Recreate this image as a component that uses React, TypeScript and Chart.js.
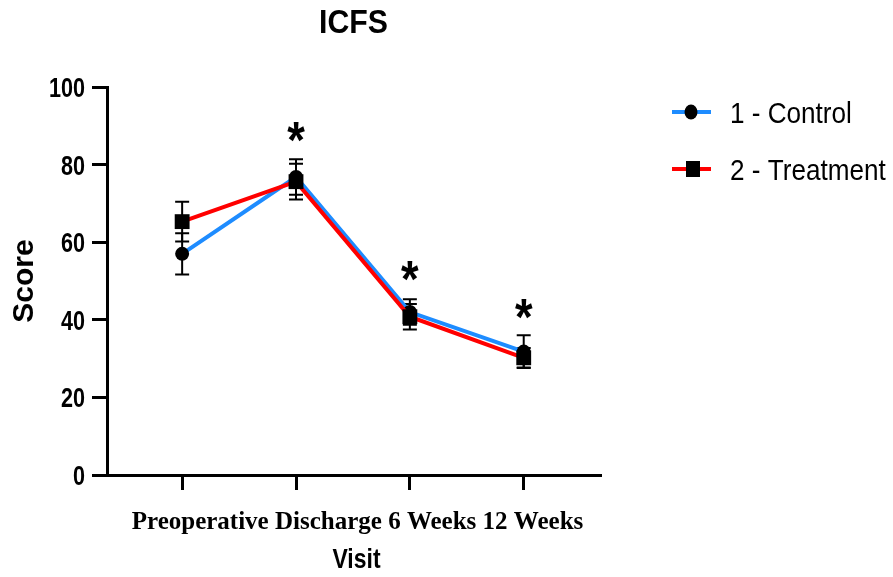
import React, { useEffect, useRef } from "react";
import { Chart, registerables } from "chart.js";

Chart.register(...registerables);

// ---------- data ----------
const visits = ["Preoperative", "Discharge", "6 Weeks", "12 Weeks"];
const controlMean = [57.0, 76.8, 42.0, 31.8];
const controlErr = [5.3, 4.6, 3.3, 4.2];
const treatmentMean = [65.3, 75.6, 40.8, 30.2];
const treatmentErr = [5.1, 4.6, 3.3, 2.5];
const significanceY: (number | null)[] = [null, 88.3, 52.6, 42.8];
const yTicks = [0, 20, 40, 60, 80, 100];
const seriesNames = ["1 - Control", "2 - Treatment"];
const chartTitle = "ICFS";
const xTitle = "Visit";
const yTitle = "Score";

const BLUE = "#1E8CFF";
const RED = "#FF0000";
const SANS = '"Liberation Sans", Arial, sans-serif';
const SERIF = '"Liberation Serif", "Times New Roman", serif';

function drawText(
  ctx: CanvasRenderingContext2D,
  s: string,
  x: number,
  y: number,
  font: string,
  align: CanvasTextAlign,
  sx = 1
) {
  ctx.save();
  ctx.font = font;
  ctx.textAlign = align;
  ctx.textBaseline = "alphabetic";
  ctx.fillStyle = "#000";
  ctx.translate(x, y);
  ctx.scale(sx, 1);
  ctx.fillText(s, 0, 0);
  ctx.restore();
}

const errorsByDataset = [controlErr, treatmentErr];

const errorBarPlugin = {
  id: "errorBars",
  beforeDatasetsDraw(chart: any) {
    const { ctx } = chart;
    const xs = chart.scales.x;
    const ys = chart.scales.y;
    chart.data.datasets.forEach((ds: any, i: number) => {
      const errs = errorsByDataset[i];
      ds.data.forEach((p: any, j: number) => {
        const e = errs[j];
        const px = xs.getPixelForValue(p.x);
        const top = ys.getPixelForValue(p.y + e);
        const bot = ys.getPixelForValue(p.y - e);
        ctx.save();
        ctx.strokeStyle = "#000";
        ctx.lineWidth = 2;
        ctx.beginPath();
        ctx.moveTo(px, top);
        ctx.lineTo(px, bot);
        ctx.moveTo(px - 7, top);
        ctx.lineTo(px + 7, top);
        ctx.moveTo(px - 7, bot);
        ctx.lineTo(px + 7, bot);
        ctx.stroke();
        ctx.restore();
      });
    });
  },
};

const textPlugin = {
  id: "texts",
  afterDraw(chart: any) {
    const { ctx, chartArea } = chart;
    const xs = chart.scales.x;
    const ys = chart.scales.y;
    const cx = (chartArea.left + chartArea.right) / 2;
    const cy = (chartArea.top + chartArea.bottom) / 2;

    // title
    drawText(ctx, chartTitle, cx, 33, `bold 34px ${SANS}`, "center", 0.89);

    // y tick labels
    yTicks.forEach((v) => {
      const py = ys.getPixelForValue(v);
      drawText(ctx, String(v), chartArea.left - 22, py + 10, `bold 27px ${SANS}`, "right", 0.8);
    });

    // y title
    ctx.save();
    ctx.translate(33, cy);
    ctx.rotate(-Math.PI / 2);
    ctx.font = `bold 30px ${SANS}`;
    ctx.textAlign = "center";
    ctx.textBaseline = "alphabetic";
    ctx.fillStyle = "#000";
    ctx.fillText(yTitle, 0, 0);
    ctx.restore();

    // x tick labels (one continuous line, as in the source)
    ctx.save();
    ctx.font = `bold 25px ${SERIF}`;
    const line = visits.join(" ");
    const w = ctx.measureText(line).width;
    ctx.restore();
    drawText(ctx, line, cx + 4 - w / 2, 529, `bold 25px ${SERIF}`, "left");

    // x title
    drawText(ctx, xTitle, cx + 3, 568, `bold 27px ${SANS}`, "center", 0.85);

    // significance asterisks
    significanceY.forEach((v, i) => {
      if (v == null) return;
      const px = xs.getPixelForValue(i);
      const py = ys.getPixelForValue(v);
      ctx.save();
      ctx.font = `bold 52px ${SANS}`;
      const m = ctx.measureText("*");
      const base = py - (m.actualBoundingBoxDescent - m.actualBoundingBoxAscent) / 2;
      ctx.restore();
      drawText(ctx, "*", px, base, `bold 52px ${SANS}`, "center", 0.87);
    });

    // legend
    const rows = [
      { y: 112, color: BLUE, shape: "circle" },
      { y: 169, color: RED, shape: "rect" },
    ];
    rows.forEach((r, i) => {
      ctx.save();
      ctx.strokeStyle = r.color;
      ctx.lineWidth = 4;
      ctx.beginPath();
      ctx.moveTo(672, r.y);
      ctx.lineTo(711, r.y);
      ctx.stroke();
      ctx.fillStyle = "#000";
      if (r.shape === "circle") {
        ctx.beginPath();
        ctx.ellipse(691, r.y, 6.5, 7.5, 0, 0, Math.PI * 2);
        ctx.fill();
      } else {
        ctx.fillRect(686, r.y - 8, 14, 16);
      }
      ctx.restore();
      drawText(ctx, seriesNames[i], 730, r.y + 11, `30px ${SANS}`, "left", 0.87);
    });
  },
};

export default function App() {
  const ref = useRef<HTMLCanvasElement | null>(null);

  useEffect(() => {
    if (!ref.current) return;
    document.body.style.margin = "0";
    const axisCommon = {
      ticks: { display: false },
      grid: {
        display: true,
        drawOnChartArea: false,
        drawTicks: true,
        tickLength: 15,
        color: "#000",
        lineWidth: 3,
      },
      border: { display: true, color: "#000", width: 3 },
    };
    const chart = new Chart(ref.current, {
      type: "line",
      data: {
        datasets: [
          {
            label: seriesNames[0],
            data: controlMean.map((v, i) => ({ x: i, y: v })),
            borderColor: BLUE,
            borderWidth: 4,
            pointStyle: "circle",
            pointRadius: 7,
            pointBackgroundColor: "#000",
            pointBorderColor: "#000",
            pointBorderWidth: 0,
            order: 1,
          },
          {
            label: seriesNames[1],
            data: treatmentMean.map((v, i) => ({ x: i, y: v })),
            borderColor: RED,
            borderWidth: 4,
            pointStyle: "rect",
            pointRadius: 10.5,
            pointBackgroundColor: "#000",
            pointBorderColor: "#000",
            pointBorderWidth: 0,
            order: 0,
          },
        ],
      },
      options: {
        responsive: false,
        animation: false,
        layout: { padding: { left: 0, top: 87, right: 293, bottom: 0 } },
        plugins: {
          legend: { display: false },
          tooltip: { enabled: false },
          title: { display: false },
        },
        scales: {
          x: {
            type: "linear",
            min: -0.66,
            max: 3.67,
            afterBuildTicks: (s: any) => {
              s.ticks = visits.map((_, i) => ({ value: i }));
            },
            afterFit: (s: any) => {
              s.height = 102;
            },
            ...axisCommon,
          },
          y: {
            type: "linear",
            min: 0,
            max: 100,
            afterBuildTicks: (s: any) => {
              s.ticks = yTicks.map((v) => ({ value: v }));
            },
            afterFit: (s: any) => {
              s.width = 107;
            },
            ...axisCommon,
          },
        },
      } as any,
      plugins: [errorBarPlugin, textPlugin],
    });
    return () => chart.destroy();
  }, []);

  return (
    <div style={{ position: "absolute", left: 0, top: 0, width: 893, height: 577, background: "#fff" }}>
      <canvas ref={ref} width={893} height={577} style={{ display: "block" }} />
    </div>
  );
}
